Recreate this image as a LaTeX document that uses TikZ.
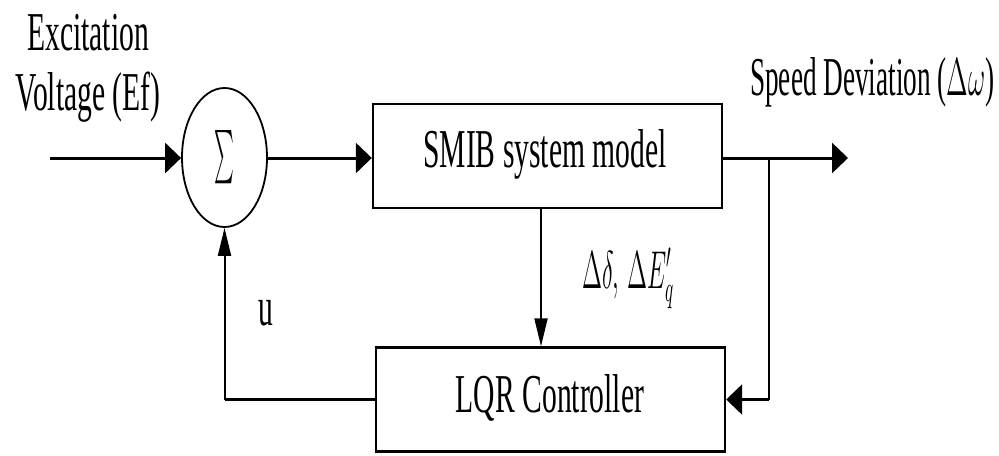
\documentclass[tikz,border=0pt]{standalone}
\usepackage{fontspec}
\setmainfont{Liberation Serif}
\usepackage{amsmath}
\usetikzlibrary{shapes.geometric, arrows.meta}

\newcommand{\stretchtext}[1]{\scalebox{1}[1.85]{#1}}

\begin{document}
\begin{tikzpicture}[x=0.5pt, y=-0.5pt,
  font=\fontsize{14.8}{18}\selectfont,
  block/.style={draw, line width=1.2pt, minimum width=174.5pt, minimum height=52pt, inner sep=0pt},
  sumnode/.style={draw, ellipse, line width=0.9pt, minimum width=42.5pt, minimum height=69.5pt, inner sep=0pt},
  harrow/.style={draw, line width=1.5pt, -{Triangle[length=8pt,width=15pt]}},
  hline/.style={draw, line width=1.5pt},
  varrow/.style={draw, line width=1pt, -{Triangle[length=14pt,width=6.5pt]}}]

\useasboundingbox (0,0) rectangle (999,455);

% Blocos
\node[sumnode] (sum) at (224.5,157.5) {\scalebox{0.65}[1.85]{$\sum$}};
\node[block] (smib) at (547.5,156) {};
\node[anchor=base] (smibtxt) at (545,167) {\stretchtext{SMIB system model}};
\node[block] (lqr) at (550.5,399.5) {};
\node[anchor=base] (lqrtxt) at (550,412) {\stretchtext{LQR Controller}};

% Pontos livres
\coordinate (in) at (50,158);
\coordinate (tap) at (769,158);
\coordinate (out) at (848,158);

% Textos
\node[anchor=base] (exc) at (88,50) {\stretchtext{Excitation}};
\node[anchor=base] (volt) at (88,110) {\stretchtext{Voltage (Ef)}};
\node[anchor=base east, inner sep=0pt] (speed) at (995,95) {\scalebox{0.92}[1.85]{Speed Deviation ($\Delta\omega$)}};
\node[anchor=base west, inner sep=0pt] (states) at (582,288) {\scalebox{0.85}[1.85]{$\Delta\delta,\,\Delta E'_q$}};
\node[anchor=base] (ulbl) at (266,325) {\stretchtext{u}};

% Ligações
\draw[harrow] (in) -- (sum.west |- in);
\draw[harrow] (sum.east |- in) -- (smib.west |- in);
\draw[hline] (smib.east |- in) -- (tap);
\draw[harrow] (tap) -- (out);
\draw[varrow] ([xshift=-3.25pt]smib.south) -- ([xshift=-3.25pt]smib.south |- lqr.north);
\draw[line width=1pt] (tap) -- (tap |- lqr.east);
\draw[harrow] (tap |- lqr.east) -- (lqr.east);
\draw[hline] (lqr.west) -- (sum.south |- lqr.west);
\draw[varrow] (sum.south |- lqr.west) -- (sum.south);

\end{tikzpicture}
\end{document}
